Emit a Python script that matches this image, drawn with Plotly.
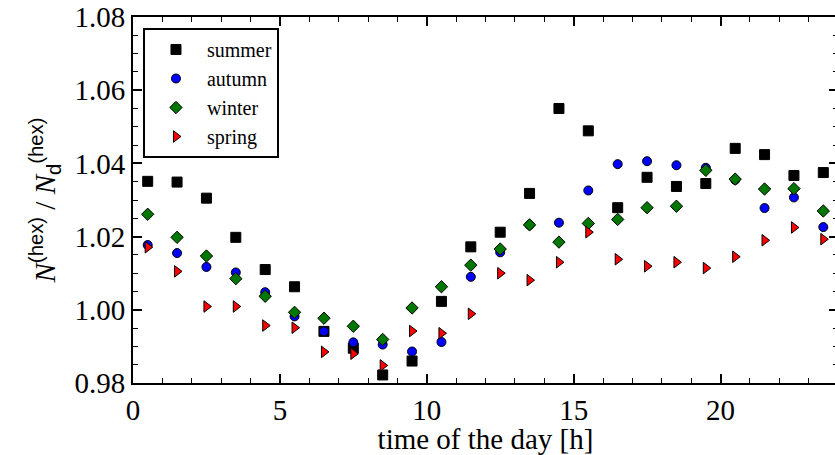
import plotly.graph_objects as go

hours = [0.5 + i for i in range(24)]

summer = [1.0351, 1.0349, 1.0305, 1.0198, 1.0110, 1.0063, 0.9941, 0.9895, 0.9822, 0.9860,
          1.0023, 1.0172, 1.0212, 1.0318, 1.0550, 1.0489, 1.0279, 1.0362, 1.0337, 1.0345,
          1.0441, 1.0424, 1.0367, 1.0375]
autumn = [1.0177, 1.0155, 1.0117, 1.0102, 1.0048, 0.9982, 0.9941, 0.9911, 0.9905, 0.9886,
          0.9912, 1.0090, 1.0157, 1.0232, 1.0238, 1.0326, 1.0398, 1.0406, 1.0395, 1.0388,
          1.0355, 1.0278, 1.0307, 1.0226]
winter = [1.0261, 1.0198, 1.0147, 1.0085, 1.0037, 0.9993, 0.9977, 0.9955, 0.9919, 1.0005,
          1.0063, 1.0122, 1.0166, 1.0232, 1.0185, 1.0236, 1.0247, 1.0279, 1.0283, 1.0381,
          1.0357, 1.0330, 1.0331, 1.0270]
spring = [1.0171, 1.0105, 1.0009, 1.0009, 0.9957, 0.9951, 0.9885, 0.9880, 0.9848, 0.9942,
          0.9936, 0.9989, 1.0100, 1.0081, 1.0130, 1.0212, 1.0138, 1.0119, 1.0130, 1.0114,
          1.0145, 1.0190, 1.0225, 1.0193]

series = [
    ("summer", summer, "square", "black", 10),
    ("autumn", autumn, "circle", "#0000ff", 9),
    ("winter", winter, "diamond", "#007700", 9.5),
    ("spring", spring, "triangle-right", "#ff0000", 10),
]

fig = go.Figure()
for name, vals, sym, col, size in series:
    fig.add_trace(go.Scatter(
        x=hours, y=vals, mode="markers", name=name,
        marker=dict(symbol=sym, color=col, size=size,
                    line=dict(color="black", width=1)),
    ))

# the original frame runs a few pixels past the right edge of the window
W, H = 840, 455
L, R, T, B = 133, 0, 17, 72
pw = W - L - R
ph = H - T - B

serif = "Liberation Serif, Times New Roman, serif"

axis_common = dict(
    showline=True, linecolor="black", linewidth=2, mirror="ticks",
    ticks="inside", ticklen=9, tickwidth=1.5, tickcolor="black",
    showgrid=False, zeroline=False, ticklabeloverflow="allow",
    tickfont=dict(family=serif, size=29, color="black"),
)

fig.update_xaxes(
    range=[0, 24], tickvals=[0, 5, 10, 15, 20],
    minor=dict(dtick=1, ticks="inside", ticklen=5, tickwidth=1, tickcolor="black", showgrid=False),
    title=dict(text="time of the day [h]", font=dict(family=serif, size=29, color="black"), standoff=2),
    **axis_common,
)
fig.update_yaxes(
    range=[0.98, 1.08], tickvals=[0.98, 1.00, 1.02, 1.04, 1.06, 1.08],
    ticktext=["0.98", "1.00", "1.02", "1.04", "1.06", "1.08"],
    minor=dict(dtick=0.005, ticks="inside", ticklen=5, tickwidth=1, tickcolor="black", showgrid=False),
    title=dict(
        text=("<i>N</i><sup><span style='font-family:Liberation Sans'>(hex)</span></sup>"
              " / <i>N</i><sub><span style='font-family:Liberation Sans'>d</span></sub>"
              "<sup><span style='font-family:Liberation Sans'>(hex)</span></sup>"),
        font=dict(family=serif, size=29, color="black"), standoff=10),
    **axis_common,
)

fig.update_layout(
    width=W, height=H,
    margin=dict(l=L, r=R, t=T, b=B, pad=0),
    plot_bgcolor="white", paper_bgcolor="white",
    showlegend=True,
    legend=dict(
        x=10 / pw, y=1 - 11 / ph, xanchor="left", yanchor="top",
        bordercolor="black", borderwidth=2, bgcolor="white",
        font=dict(family=serif, size=20, color="black"),
        itemwidth=52, tracegroupgap=0,
    ),
)

fig.write_html(
    "out.html",
    config={"displayModeBar": False},
    post_script="document.body.style.margin='0';document.body.style.overflow='hidden';",
)
